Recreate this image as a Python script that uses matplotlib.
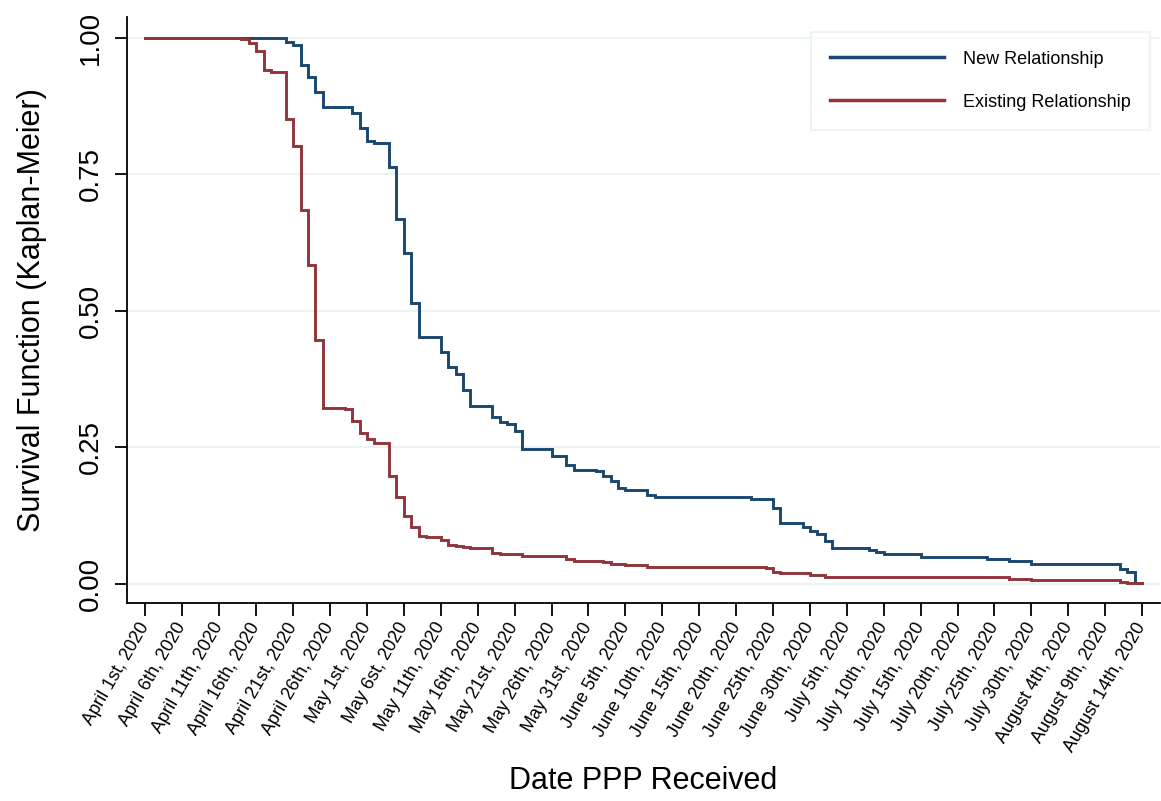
import matplotlib
matplotlib.use("Agg")
import matplotlib.pyplot as plt

plt.rcParams['font.family'] = ['Liberation Sans', 'DejaVu Sans']

# Kaplan-Meier survival estimates: days since April 1st, 2020 and survival after that day
new_days = [0, 19, 20, 21, 22, 23, 24, 28, 29, 30, 31, 33, 34, 35, 36, 37, 40, 41, 42,
            43, 44, 47, 48, 49, 50, 51, 55, 57, 58, 61, 62, 63, 64, 65, 68, 69, 82, 85,
            86, 89, 90, 91, 92, 93, 98, 99, 100, 105, 114, 117, 120, 132, 133, 134, 135]
new_surv = [1.000, 0.992, 0.988, 0.951, 0.928, 0.901, 0.874, 0.862, 0.836, 0.811, 0.807,
            0.763, 0.669, 0.607, 0.514, 0.452, 0.424, 0.397, 0.384, 0.355, 0.326, 0.306,
            0.297, 0.293, 0.280, 0.247, 0.234, 0.218, 0.209, 0.206, 0.197, 0.189, 0.175,
            0.172, 0.163, 0.159, 0.156, 0.139, 0.112, 0.105, 0.096, 0.092, 0.079, 0.065,
            0.062, 0.058, 0.054, 0.049, 0.045, 0.042, 0.037, 0.028, 0.021, 0.002, 0.002]

existing_days = [0, 13, 14, 15, 16, 17, 19, 20, 21, 22, 23, 24, 27, 28, 29, 30, 31, 33,
                 34, 35, 36, 37, 38, 40, 41, 42, 43, 44, 47, 48, 51, 57, 58, 62, 63, 65,
                 68, 84, 85, 86, 90, 92, 117, 120, 132, 133, 135]
existing_surv = [1.000, 0.998, 0.991, 0.976, 0.941, 0.938, 0.852, 0.802, 0.685, 0.584,
                 0.446, 0.323, 0.320, 0.299, 0.276, 0.266, 0.259, 0.198, 0.159, 0.125,
                 0.105, 0.088, 0.086, 0.081, 0.071, 0.070, 0.067, 0.065, 0.056, 0.054,
                 0.051, 0.046, 0.042, 0.040, 0.036, 0.034, 0.031, 0.029, 0.021, 0.020,
                 0.017, 0.012, 0.009, 0.007, 0.004, 0.001, 0.001]

tick_days = list(range(0, 136, 5))
tick_labels = ["April 1st, 2020", "April 6th, 2020", "April 11th, 2020", "April 16th, 2020",
               "April 21st, 2020", "April 26th, 2020", "May 1st, 2020", "May 6st, 2020",
               "May 11th, 2020", "May 16th, 2020", "May 21st, 2020", "May 26th, 2020",
               "May 31st, 2020", "June 5th, 2020", "June 10th, 2020", "June 15th, 2020",
               "June 20th, 2020", "June 25th, 2020", "June 30th, 2020", "July 5th, 2020",
               "July 10th, 2020", "July 15th, 2020", "July 20th, 2020", "July 25th, 2020",
               "July 30th, 2020", "August 4th, 2020", "August 9th, 2020", "August 14th, 2020"]
y_ticks = [0.0, 0.25, 0.5, 0.75, 1.0]

BLUE = "#1a476f"
RED = "#90353b"
GRID = "#eaf2f3"

fig = plt.figure(figsize=(11.61, 8.01), dpi=100)
ax = fig.add_axes([0.1094, 0.2472, 0.8896, 0.7316])

ax.step(new_days, new_surv, where='post', color=BLUE, lw=2.1, label="New Relationship",
        solid_joinstyle='miter', zorder=3)
ax.step(existing_days, existing_surv, where='post', color=RED, lw=2.1,
        label="Existing Relationship", solid_joinstyle='miter', zorder=3)

ax.set_xlim(-2.5, 137.4)
ax.set_ylim(-0.035, 1.0385)

for v in y_ticks:
    ax.axhline(v, color=GRID, lw=1.6, zorder=1)

ax.tick_params(axis='both', direction='out', length=9, width=1.3, color='black')
ax.tick_params(axis='y', pad=8, labelsize=20)
ax.tick_params(axis='x', pad=6, labelsize=13)

ax.set_yticks(y_ticks)
ax.set_yticklabels(["%.2f" % v for v in y_ticks], rotation=90, va='center', fontsize=20)
ax.set_xticks(tick_days)
ax.set_xticklabels(tick_labels, rotation=60, ha='right', va='center',
                   rotation_mode='anchor', fontsize=13)

for side in ['top', 'right']:
    ax.spines[side].set_visible(False)
for side in ['left', 'bottom']:
    ax.spines[side].set_linewidth(1.3)

ax.set_ylabel("Survival Function (Kaplan-Meier)", fontsize=22)
ax.yaxis.set_label_coords(-0.077, 0.5)
ax.set_xlabel("Date PPP Received", fontsize=22)
ax.xaxis.set_label_coords(0.5, -0.279)

leg = ax.legend(loc='upper right', bbox_to_anchor=(0.990, 0.975), fontsize=13,
                frameon=True, fancybox=False, handlelength=6.3, handletextpad=1.05,
                labelspacing=1.45, borderpad=1.05, borderaxespad=0)
leg.get_frame().set_edgecolor(GRID)
leg.get_frame().set_linewidth(1.5)
for line in leg.get_lines():
    line.set_linewidth(2.5)

fig.savefig("out.png", dpi=100, facecolor='white')
